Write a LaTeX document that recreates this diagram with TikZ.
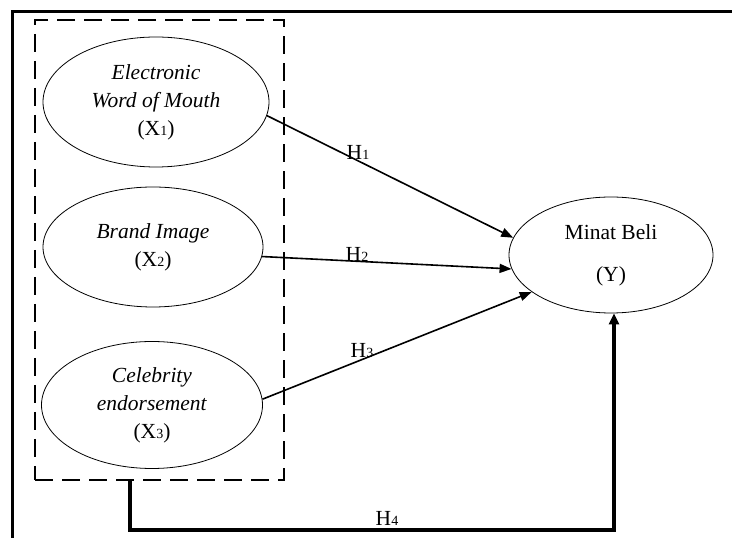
\documentclass[tikz,border=0pt]{standalone}
\usepackage{fontspec}
\setmainfont{Liberation Serif}
\usetikzlibrary{shapes.geometric,arrows.meta}
\newcommand{\smd}[1]{{\fontsize{14}{14}\selectfont #1}}
\tikzset{
  var/.style={draw, ellipse, line width=0.8pt, inner sep=0pt, align=center,
    font=\fontsize{21.5}{28}\selectfont},
  hyp/.style={-{Triangle[length=12pt,width=9pt]}, line width=1.6pt},
  hlab/.style={font=\fontsize{21.5}{22}\selectfont, inner sep=0pt},
  grpbox/.style={draw, dash pattern=on 18pt off 9pt, line width=2.4pt, inner sep=0pt}
}
\begin{document}
\begin{tikzpicture}[x=1pt,y=1pt]
\useasboundingbox (0,0) rectangle (732,538);
% frame
\draw[line width=3pt] (732,526) -- (12,526) -- (12,0);
% group box
\node[grpbox, minimum width=249pt, minimum height=460pt] (grp) at (159.5,288) {};
% variables
\node[var, minimum width=226pt, minimum height=130pt] (e1) at (156,436)
  {\textit{Electronic}\\\textit{Word of Mouth}\\(X\smd{1})};
\node[var, minimum width=220pt, minimum height=120pt] (e2) at (153,291)
  {\textit{Brand Image}\\(X\smd{2})};
\node[var, minimum width=221pt, minimum height=127pt] (e3) at (152,133)
  {\textit{Celebrity}\\\textit{endorsement}\\(X\smd{3})};
\node[var, minimum width=204pt, minimum height=116pt] (ey) at (611,283)
  {Minat Beli\\[14pt](Y)};
% hypotheses
\draw[hyp] (e1.-7) -- (ey.170);
\draw[hyp] (e2.-5) -- (ey.188);
\draw[hyp] (e3.3) -- (ey.205);
\coordinate (h4s) at (130,58);
\draw[line width=3.4pt, -{Triangle[length=11pt,width=10pt]}] (h4s) -- (130,8) -- (614,8) -- ([xshift=3pt]ey.south);
% labels
\node[hlab] at (358,386) {H\smd{1}};
\node[hlab] at (357,284) {H\smd{2}};
\node[hlab] at (362,187) {H\smd{3}};
\node[hlab] at (387,20) {H\smd{4}};
\end{tikzpicture}
\end{document}
